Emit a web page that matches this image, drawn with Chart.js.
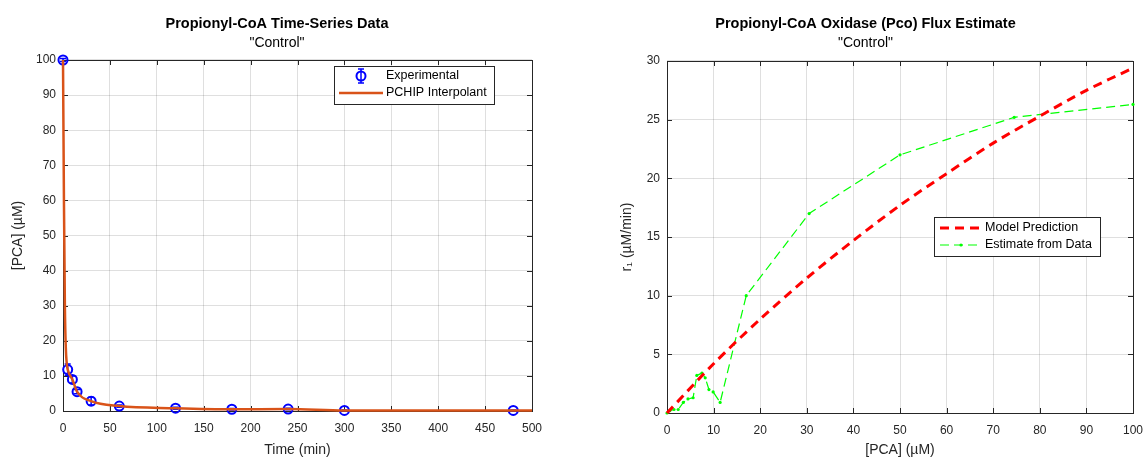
<!DOCTYPE html>
<html>
<head>
<meta charset="utf-8">
<script src="https://cdn.jsdelivr.net/npm/chart.js@4.4.1/dist/chart.umd.min.js"></script>
<style>
  html, body { margin: 0; padding: 0; background: #fff; }
  body { width: 1145px; height: 457px; position: relative; overflow: hidden; }
  .panel { position: absolute; top: 0; height: 457px; }
</style>
</head>
<body>
<div class="panel" style="left:0;width:560px"><canvas id="c1"></canvas></div>
<div class="panel" style="left:560px;width:585px"><canvas id="c2"></canvas></div>
<script>
// left panel: measured PCA over time
var times = [0, 5, 10, 15, 30, 60, 120, 180, 240, 300, 480];
var pca = [100, 11.8, 9.0, 5.5, 2.8, 1.4, 0.8, 0.5, 0.55, 0.15, 0.15];
var pcaErr = [0.4, 1.6, 1.0, 0.6, 1.1, 0.3, 0.3, 0.2, 0.2, 0.1, 0.1];
// interpolant curve
var fitTimes = [0, 1, 2, 3, 4, 5, 10, 15, 30, 60, 120, 180, 240, 300, 480, 500];
var fitPca = [100, 60, 30, 18, 13.5, 11.8, 9.0, 5.5, 2.8, 1.4, 0.8, 0.5, 0.55, 0.15, 0.15, 0.12];

// right panel: flux vs PCA
var modelPca = [0, 10, 20, 30, 40, 50, 60, 70, 80, 90, 100];
var modelRate = [0, 4.2, 8.0, 11.5, 14.7, 17.7, 20.4, 23.0, 25.3, 27.5, 29.4];
var estPca = [0, 0.6, 1.5, 2.4, 3.5, 4.5, 5.6, 6.4, 7.5, 8.2, 9.0, 9.9, 11.4, 17, 30.5, 50, 74.5, 100];
var estRate = [0, 0.2, 0.3, 0.3, 0.9, 1.2, 1.3, 3.2, 3.4, 3.0, 2.0, 1.8, 0.9, 10, 17, 22, 25.2, 26.3];

Chart.defaults.font.family = '"Liberation Sans", Arial, Helvetica, sans-serif';
Chart.defaults.color = '#262626';

var AXIS = '#262626';
var GRID = 'rgba(38,38,38,0.15)';

function pts(xs, ys) {
  return xs.map(function (x, i) { return { x: x, y: ys[i] }; });
}

// matlab style box with inward ticks
var boxPlugin = {
  id: 'box',
  beforeDatasetsDraw: function (chart) {
    var a = chart.chartArea, ctx = chart.ctx;
    var sx = chart.scales.x, sy = chart.scales.y;
    ctx.save();
    ctx.strokeStyle = AXIS;
    ctx.lineWidth = 1;
    ctx.strokeRect(Math.round(a.left) + 0.5, Math.round(a.top) + 0.5,
      Math.round(a.right - a.left), Math.round(a.bottom - a.top));
    ctx.beginPath();
    sx.ticks.forEach(function (t) {
      var x = Math.round(sx.getPixelForValue(t.value)) + 0.5;
      ctx.moveTo(x, a.bottom); ctx.lineTo(x, a.bottom - 5);
      ctx.moveTo(x, a.top); ctx.lineTo(x, a.top + 5);
    });
    sy.ticks.forEach(function (t) {
      var y = Math.round(sy.getPixelForValue(t.value)) + 0.5;
      ctx.moveTo(a.left, y); ctx.lineTo(a.left + 5, y);
      ctx.moveTo(a.right, y); ctx.lineTo(a.right - 5, y);
    });
    ctx.stroke();
    ctx.restore();
  }
};

var errorBars = {
  id: 'errorBars',
  beforeDatasetsDraw: function (chart) {
    var ctx = chart.ctx, sx = chart.scales.x, sy = chart.scales.y;
    ctx.save();
    ctx.strokeStyle = '#0000FF';
    ctx.lineWidth = 1.5;
    ctx.beginPath();
    times.forEach(function (t, i) {
      var x = sx.getPixelForValue(t);
      var y1 = sy.getPixelForValue(pca[i] + pcaErr[i]);
      var y2 = sy.getPixelForValue(pca[i] - pcaErr[i]);
      ctx.moveTo(x, y1); ctx.lineTo(x, y2);
      ctx.moveTo(x - 3, y1); ctx.lineTo(x + 3, y1);
      ctx.moveTo(x - 3, y2); ctx.lineTo(x + 3, y2);
    });
    ctx.stroke();
    ctx.restore();
  }
};

function drawSample(ctx, kind, x0, x1, y) {
  var xm = (x0 + x1) / 2;
  ctx.save();
  if (kind === 'err') {
    ctx.strokeStyle = '#0000FF'; ctx.lineWidth = 1.5;
    ctx.beginPath();
    ctx.moveTo(xm, y - 7); ctx.lineTo(xm, y + 7);
    ctx.moveTo(xm - 3, y - 7); ctx.lineTo(xm + 3, y - 7);
    ctx.moveTo(xm - 3, y + 7); ctx.lineTo(xm + 3, y + 7);
    ctx.stroke();
    ctx.lineWidth = 2;
    ctx.beginPath(); ctx.arc(xm, y, 4.5, 0, Math.PI * 2); ctx.stroke();
  } else if (kind === 'orange') {
    ctx.strokeStyle = '#D95319'; ctx.lineWidth = 2.5;
    ctx.beginPath(); ctx.moveTo(x0, y); ctx.lineTo(x1, y); ctx.stroke();
  } else if (kind === 'red') {
    ctx.strokeStyle = '#FF0000'; ctx.lineWidth = 3; ctx.setLineDash([9, 6]);
    ctx.beginPath(); ctx.moveTo(x0, y); ctx.lineTo(x1, y); ctx.stroke();
  } else if (kind === 'green') {
    ctx.strokeStyle = '#00FF00'; ctx.lineWidth = 1.2; ctx.setLineDash([9, 5]);
    ctx.beginPath(); ctx.moveTo(x0, y); ctx.lineTo(x1, y); ctx.stroke();
    ctx.fillStyle = '#00FF00';
    ctx.beginPath(); ctx.arc(xm, y, 1.6, 0, Math.PI * 2); ctx.fill();
  }
  ctx.restore();
}

function legendBox(cfg) {
  return {
    id: 'legendBox',
    afterDraw: function (chart) {
      var ctx = chart.ctx;
      ctx.save();
      ctx.fillStyle = '#fff';
      ctx.fillRect(cfg.x, cfg.y, cfg.w, cfg.h);
      ctx.strokeStyle = AXIS; ctx.lineWidth = 1;
      ctx.strokeRect(cfg.x + 0.5, cfg.y + 0.5, cfg.w, cfg.h);
      ctx.font = '12.5px "Liberation Sans", Arial, sans-serif';
      ctx.textBaseline = 'middle';
      cfg.items.forEach(function (it, i) {
        var y = cfg.y + cfg.rowTop + i * cfg.rowGap;
        drawSample(ctx, it.kind, cfg.x + cfg.s0, cfg.x + cfg.s1, y);
        ctx.fillStyle = '#000';
        ctx.fillText(it.label, cfg.x + cfg.tx, y);
      });
      ctx.restore();
    }
  };
}

function xScale(min, max, step, title, h) {
  return {
    type: 'linear', min: min, max: max,
    ticks: { stepSize: step, padding: 10, font: { size: 12 }, color: AXIS, maxRotation: 0, autoSkip: false },
    grid: { color: GRID, drawTicks: false },
    border: { display: false },
    title: { display: true, text: title, font: { size: 14 }, color: AXIS, padding: { top: 0, bottom: -2 } },
    afterFit: function (s) { s.height = h; s.paddingLeft = 0; s.paddingRight = 0; }
  };
}

function yScale(min, max, step, title, w, tpad) {
  return {
    type: 'linear', min: min, max: max,
    ticks: { stepSize: step, padding: 7, font: { size: 12 }, color: AXIS, autoSkip: false },
    grid: { color: GRID, drawTicks: false },
    border: { display: false },
    title: { display: true, text: title, font: { size: 14 }, color: AXIS, padding: { top: tpad, bottom: 0 } },
    afterFit: function (s) { s.width = w; }
  };
}

function titles(main, subBottom) {
  return {
    legend: { display: false },
    tooltip: { enabled: false },
    title: { display: true, text: main, color: '#000', font: { size: 14.5, weight: 'bold' }, padding: { top: 15.3, bottom: 2.4 } },
    subtitle: { display: true, text: '"Control"', color: '#000', font: { size: 14, weight: 'normal' }, padding: { top: 0, bottom: subBottom } }
  };
}

new Chart(document.getElementById('c1'), {
  type: 'scatter',
  data: {
    datasets: [
      {
        label: 'PCHIP Interpolant',
        data: pts(fitTimes, fitPca),
        showLine: true,
        borderColor: '#D95319',
        borderWidth: 2.5,
        pointRadius: 0,
        cubicInterpolationMode: 'monotone',
        order: 1,
        clip: false
      },
      {
        label: 'Experimental',
        data: pts(times, pca),
        showLine: false,
        pointRadius: 4.5,
        pointBorderWidth: 2,
        pointBorderColor: '#0000FF',
        pointBackgroundColor: 'rgba(0,0,0,0)',
        order: 2,
        clip: false
      }
    ]
  },
  options: {
    responsive: true,
    maintainAspectRatio: false,
    animation: false,
    layout: { padding: { left: 22, right: 28, top: 0, bottom: 0 } },
    scales: {
      x: xScale(0, 500, 50, 'Time (min)', 46),
      y: yScale(0, 100, 10, '[PCA] (\u00b5M)', 41, -12.4)
    },
    plugins: titles('Propionyl-CoA Time-Series Data', 8.1)
  },
  plugins: [boxPlugin, errorBars, legendBox({
    x: 334, y: 66, w: 160, h: 38, rowTop: 10, rowGap: 17, s0: 5, s1: 49, tx: 52,
    items: [{ kind: 'err', label: 'Experimental' }, { kind: 'orange', label: 'PCHIP Interpolant' }]
  })]
});

new Chart(document.getElementById('c2'), {
  type: 'scatter',
  data: {
    datasets: [
      {
        label: 'Model Prediction',
        data: pts(modelPca, modelRate),
        showLine: true,
        borderColor: '#FF0000',
        borderWidth: 3,
        borderDash: [9, 6],
        pointRadius: 0,
        tension: 0.3,
        clip: false
      },
      {
        label: 'Estimate from Data',
        data: pts(estPca, estRate),
        showLine: true,
        borderColor: '#00FF00',
        borderWidth: 1.2,
        borderDash: [9, 5],
        pointRadius: 1.6,
        pointBorderWidth: 0,
        pointBackgroundColor: '#00FF00',
        clip: false
      }
    ]
  },
  options: {
    responsive: true,
    maintainAspectRatio: false,
    animation: false,
    layout: { padding: { left: 38, right: 12, top: 0, bottom: 0 } },
    scales: {
      x: xScale(0, 100, 10, '[PCA] (\u00b5M)', 44),
      y: yScale(0, 30, 5, 'r\u2081 (\u00b5M/min)', 69, 20.6)
    },
    plugins: titles('Propionyl-CoA Oxidase (Pco) Flux Estimate', 9.1)
  },
  plugins: [boxPlugin, legendBox({
    x: 374, y: 217, w: 166, h: 39, rowTop: 11, rowGap: 17, s0: 6, s1: 48, tx: 51,
    items: [{ kind: 'red', label: 'Model Prediction' }, { kind: 'green', label: 'Estimate from Data' }]
  })]
});
</script>
</body>
</html>
